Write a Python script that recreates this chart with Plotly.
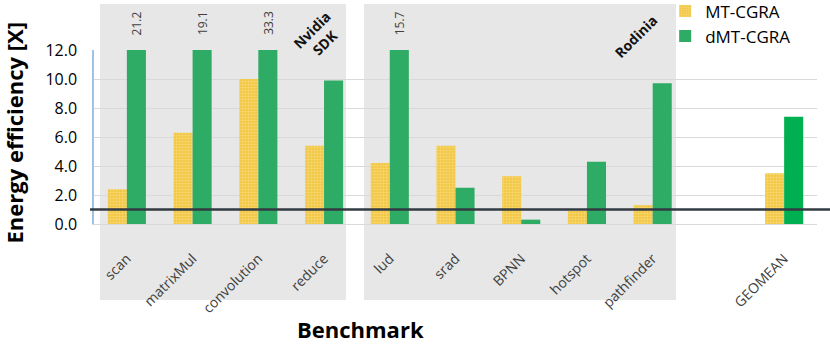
import plotly.graph_objects as go

categories = ["scan", "matrixMul", "convolution", "reduce", "lud", "srad", "BPNN",
              "hotspot", "pathfinder", " ", "GEOMEAN"]
mt_cgra = [2.4, 6.3, 10.0, 5.4, 4.2, 5.4, 3.3, 0.9, 1.3, None, 3.5]
dmt_cgra = [21.2, 19.1, 33.3, 9.9, 15.7, 2.5, 0.3, 4.3, 9.7, None, 7.4]
y_ticks = [0, 2, 4, 6, 8, 10, 12]
y_max = 12
baseline = 1.0
groups = [("Nvidia<br>SDK", 0.0083, 0.3485, 0.31, 1.075),
          ("Rodinia", 0.3734, 0.805, 0.749, 1.08)]

FONT = "Open Sans"
dmt_colors = ["#2eab64"] * (len(categories) - 1) + ["#00b050"]

fig = go.Figure()
fig.add_trace(go.Bar(
    x=categories, y=mt_cgra, name="MT-CGRA",
    marker=dict(color="#f0c23a",
                pattern=dict(shape=".", fgcolor="#fde9a4", bgcolor="#f0c23a",
                             size=3, solidity=0.5),
                line=dict(width=0)),
))
fig.add_trace(go.Bar(
    x=categories, y=dmt_cgra, name="dMT-CGRA",
    marker=dict(color=dmt_colors, line=dict(width=0)),
))

shapes = []
annotations = []
for label, x0, x1, lx, ly in groups:
    shapes.append(dict(type="rect", xref="paper", yref="paper", x0=x0, x1=x1,
                       y0=-0.437, y1=1.264, fillcolor="#e7e7e7", line=dict(width=0),
                       layer="below"))
    annotations.append(dict(text="<b>" + label + "</b>", xref="paper", yref="paper",
                            x=lx, y=ly, xanchor="center", yanchor="middle",
                            showarrow=False, textangle=-45,
                            font=dict(family=FONT, size=14, color="#111111")))

shapes.append(dict(type="line", xref="paper", yref="y", x0=-0.0055, x1=1.03,
                   y0=baseline, y1=baseline, line=dict(color="#323a42", width=2.5),
                   layer="above"))

for c, v in zip(categories, dmt_cgra):
    if v is not None and v > y_max:
        annotations.append(dict(text=f"{v:.1f}", x=c, xref="x", yref="paper", y=1.155,
                                xanchor="center", yanchor="middle",
                                xshift=9.5, showarrow=False, textangle=-90,
                                font=dict(family=FONT, size=12, color="#404040")))

annotations.append(dict(text="<b>Energy efficiency [X]</b>", xref="paper", yref="paper",
                        x=-0.110, y=0.523, xanchor="center", yanchor="middle",
                        showarrow=False, textangle=-90,
                        font=dict(family=FONT, size=22, color="#000000")))
annotations.append(dict(text="<b>Benchmark</b>", xref="paper", yref="paper",
                        x=0.368, y=-0.603, xanchor="center", yanchor="middle",
                        showarrow=False,
                        font=dict(family=FONT, size=22, color="#000000")))

fig.update_layout(
    width=830, height=344,
    margin=dict(l=94, r=13, t=50, b=120, autoexpand=False),
    paper_bgcolor="white", plot_bgcolor="rgba(0,0,0,0)",
    barmode="group", bargap=0.42, bargroupgap=0,
    font=dict(family=FONT, color="#404040"),
    shapes=shapes, annotations=annotations,
    showlegend=True,
    legend=dict(x=0.79, y=1.325, xanchor="left", yanchor="top",
                font=dict(family=FONT, size=17, color="#000000"),
                bgcolor="rgba(0,0,0,0)", tracegroupgap=0),
    xaxis=dict(type="category", categoryorder="array", categoryarray=categories,
               tickangle=-45, tickfont=dict(family=FONT, size=14, color="#404040"),
               showline=True, linecolor="#d9d9d9", linewidth=1, showgrid=False,
               ticks="", ticklabelstandoff=20, automargin=False),
    yaxis=dict(range=[0, y_max], tickvals=y_ticks, tickformat=".1f",
               tickfont=dict(family=FONT, size=16, color="#000000"),
               showgrid=True, gridcolor="#d9d9d9", gridwidth=1,
               showline=True, linecolor="#9dc3e6", linewidth=1.5,
               zeroline=False, ticks="", ticklabelstandoff=12, automargin=False),
)

fig.write_html("out.html", config={"displayModeBar": False},
               post_script="document.body.style.margin='0px';")
